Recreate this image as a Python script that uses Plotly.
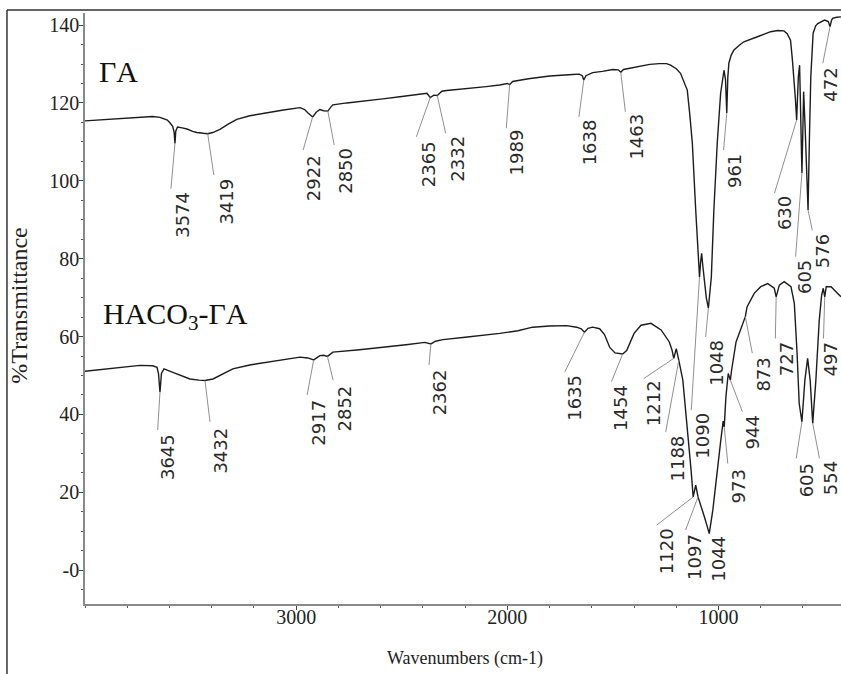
import numpy as np
import plotly.graph_objects as go

# ---- spectrum of ΓA (wavenumber cm-1, %T) ----
ga_wn = [4000, 3950, 3900, 3850, 3800, 3740, 3680, 3645, 3610, 3598, 3585, 3578, 3574, 3570,
         3562, 3540, 3517, 3490, 3470, 3440, 3419, 3395, 3361, 3320, 3281, 3220, 3139, 3060,
         2982, 2960, 2945, 2922, 2905, 2888, 2870, 2850, 2835, 2826, 2760, 2665, 2580, 2509,
         2440, 2381, 2365, 2348, 2332, 2310, 2287, 2200, 2100, 2036, 2000, 1989, 1975, 1900,
         1799, 1691, 1660, 1645, 1638, 1628, 1596, 1550, 1501, 1475, 1463, 1450, 1407, 1326,
         1280, 1246, 1227, 1200, 1180, 1165, 1148, 1136, 1124, 1108, 1096, 1090, 1085, 1080,
         1074, 1069, 1058, 1048, 1040, 1034, 1022, 1006, 990, 974, 967, 961, 956, 951, 940,
         927, 900, 880, 816, 790, 753, 720, 690, 675, 659, 650, 643, 636, 630, 626, 622, 616,
         611, 605, 601, 597, 590, 583, 576, 570, 563, 552, 540, 530, 498, 480, 472, 465, 460,
         440, 420]
ga_t = [115.4, 115.6, 115.8, 116.0, 116.2, 116.4, 116.5, 116.3, 115.6, 114.9, 114.0, 112.5,
        109.6, 112.8, 113.8, 113.6, 113.3, 112.7, 112.4, 112.2, 112.1, 112.4, 113.2, 114.6,
        115.8, 116.7, 117.5, 118.2, 118.8, 118.3, 117.5, 116.4, 117.6, 118.3, 118.0, 117.9,
        119.0, 119.5, 120.0, 120.5, 121.1, 121.6, 122.1, 122.5, 121.4, 122.0, 121.9, 123.0,
        123.2, 123.6, 124.2, 124.6, 125.0, 124.7, 125.5, 126.2, 126.9, 127.3, 127.4, 127.0,
        125.9, 127.0, 127.8, 128.1, 128.6, 128.5, 127.9, 128.6, 129.0, 129.9, 130.1, 130.1,
        129.7, 128.8, 127.6, 125.8, 123.3, 117.0, 109.7, 92.5, 80.0, 75.3, 79.0, 81.4, 78.0,
        75.3, 70.0, 67.3, 72.0, 75.3, 92.5, 109.7, 122.5, 128.4, 126.0, 117.4, 126.5, 130.2,
        132.3, 133.6, 134.9, 135.7, 137.0, 137.6, 138.3, 138.6, 138.5, 137.8, 136.1, 131.0,
        126.7, 121.0, 115.6, 121.0, 126.7, 129.7, 118.3, 102.0, 112.0, 122.9, 113.9, 104.0,
        92.5, 109.7, 126.7, 137.9, 139.8, 140.4, 141.3, 140.9, 139.6, 141.2, 141.7, 142.0,
        142.1]

# ---- spectrum of HACO3-ΓA ----
haco_wn = [4000, 3900, 3800, 3740, 3680, 3659, 3652, 3645, 3638, 3626, 3584, 3540, 3503, 3460,
           3432, 3394, 3350, 3300, 3220, 3139, 3060, 2982, 2945, 2917, 2888, 2870, 2852, 2826,
           2700, 2590, 2480, 2391, 2362, 2340, 2306, 2200, 2100, 2036, 1950, 1880, 1800, 1719,
           1672, 1650, 1635, 1618, 1596, 1563, 1540, 1515, 1490, 1454, 1435, 1421, 1400, 1367,
           1320, 1272, 1233, 1220, 1212, 1200, 1193, 1188, 1169, 1154, 1138, 1130, 1120, 1108,
           1097, 1085, 1067, 1055, 1044, 1027, 1004, 990, 978, 973, 965, 954, 944, 938, 917,
           894, 873, 865, 831, 800, 767, 736, 727, 712, 689, 657, 641, 628, 618, 605, 591, 578,
           566, 554, 539, 523, 512, 504, 497, 490, 467, 444, 420]
haco_t = [51.1, 51.7, 52.2, 52.6, 52.5, 52.1, 50.5, 45.7, 50.5, 51.7, 50.8, 49.9, 49.1, 48.8,
          48.7, 49.1, 50.3, 51.7, 52.7, 53.4, 54.1, 54.7, 54.5, 54.0, 55.1, 55.2, 54.9, 56.0,
          56.6, 57.2, 57.9, 58.5, 58.1, 58.8, 59.2, 59.8, 60.4, 60.8, 61.5, 62.4, 62.7, 62.8,
          62.4, 62.0, 61.1, 62.1, 62.4, 62.0, 60.5, 57.2, 55.8, 55.5, 56.4, 58.1, 60.8, 62.9,
          63.4, 61.7, 58.6, 56.5, 54.4, 56.9, 55.5, 53.9, 48.8, 40.3, 30.0, 25.7, 18.8, 21.8,
          18.8, 16.5, 13.7, 11.5, 9.4, 15.4, 27.4, 33.0, 38.3, 36.8, 44.5, 50.5, 48.8, 51.4,
          58.6, 62.0, 65.1, 67.6, 71.1, 72.8, 73.6, 72.4, 70.2, 73.2, 74.1, 72.8, 68.5, 55.7,
          42.8, 38.1, 48.8, 54.4, 48.8, 37.7, 48.8, 64.2, 70.5, 72.4, 70.2, 72.8, 72.8, 71.5,
          70.2]

# ---- marked band positions ----
ga_peaks = [3574, 3419, 2922, 2850, 2365, 2332, 1989, 1638, 1463, 1090, 1048, 961, 630, 605,
            576, 472]
haco_peaks = [3645, 3432, 2917, 2852, 2362, 1635, 1454, 1212, 1188, 1120, 1097, 1044, 973,
              944, 873, 727, 605, 554, 497]

# label placement: (leader end wn, leader end %T, label centre wn, label centre %T)
ga_place = {
    3574: (3593, 98.0, 3542, 91.2), 3419: (3390, 101.5, 3330, 94.8),
    2922: (2967, 107.9, 2918, 100.8), 2850: (2820, 109.2, 2770, 102.5),
    2365: (2431, 111.3, 2375, 104.3), 2332: (2292, 112.2, 2240, 105.6),
    1989: (2005, 113.5, 1956, 107.2), 1638: (1661, 116.4, 1610, 109.8),
    1463: (1441, 117.7, 1390, 111.4), 1090: (1129, 41.1, 1074, 34.5),
    1048: (1061, 59.9, 1011, 53.3), 961: (976, 107.9, 924, 102.4),
    630: (735, 96.8, 687, 91.6), 605: (635, 80.5, 593, 75.4),
    576: (556, 87.3, 510, 81.9), 472: (506, 130.2, 470, 124.8),
}
haco_place = {
    3645: (3656, 36.0, 3606, 29.1), 3432: (3408, 38.1, 3359, 30.8),
    2917: (2948, 45.0, 2896, 37.9), 2852: (2825, 48.8, 2772, 41.6),
    2362: (2371, 52.7, 2320, 45.6), 1635: (1728, 50.9, 1679, 44.3),
    1454: (1507, 48.4, 1461, 41.7), 1212: (1354, 49.2, 1307, 42.8),
    1188: (1250, 35.5, 1196, 28.7), 1120: (1292, 11.6, 1248, 4.9),
    1097: (1156, 10.3, 1114, 3.5), 1044: (None, None, 1000, 2.8),
    973: (956, 27.4, 905, 21.4), 944: (887, 40.7, 841, 35.4),
    873: (840, 55.7, 788, 50.3), 727: (731, 59.5, 680, 54.2),
    605: (632, 28.7, 585, 23.1), 554: (522, 28.7, 472, 23.6),
    497: (503, 59.5, 471, 54.2),
}

y_ticks = [0, 20, 40, 60, 80, 100, 120, 140]
y_ticktext = ["-0", "20", "40", "60", "80", "100", "120", "140"]
x_ticks = [1000, 2000, 3000]

SERIF = "Liberation Serif"
SANS = "DejaVu Sans"

fig = go.Figure()
for wn, t in ((ga_wn, ga_t), (haco_wn, haco_t)):
    fig.add_trace(go.Scatter(x=wn, y=t, mode="lines",
                             line=dict(color="#1c1c1c", width=1.4),
                             hoverinfo="skip", showlegend=False))

shapes = []
annotations = []
for peaks, place, wn, t in ((ga_peaks, ga_place, ga_wn, ga_t),
                            (haco_peaks, haco_place, haco_wn, haco_t)):
    wn_asc = np.array(wn[::-1], dtype=float)
    t_asc = np.array(t[::-1], dtype=float)
    for p in peaks:
        ex, ey, lx, ly = place[p]
        tip = float(np.interp(p, wn_asc, t_asc))
        if ex is not None:
            shapes.append(dict(type="line", xref="x", yref="y", x0=p, y0=tip, x1=ex, y1=ey,
                               line=dict(color="#8f8f8f", width=1)))
        annotations.append(dict(x=lx, y=ly, xref="x", yref="y", text=str(p), showarrow=False,
                                textangle=-90, xanchor="center", yanchor="middle",
                                font=dict(family=SANS, size=18, color="#2a2a2a")))

# sample names
annotations.append(dict(x=3945, y=132.9, xref="x", yref="y", text="ΓA", showarrow=False,
                        xanchor="left", yanchor="top",
                        font=dict(family=SERIF, size=30, color="#111")))
annotations.append(dict(x=3924, y=70.6, xref="x", yref="y", text="HACO<sub>3</sub>-ΓA",
                        showarrow=False, xanchor="left", yanchor="top",
                        font=dict(family=SERIF, size=30, color="#111")))

# axis titles
annotations.append(dict(x=-0.0866, y=0.504, xref="paper", yref="paper", text="%Transmittance",
                        showarrow=False, textangle=-90, xanchor="center", yanchor="middle",
                        font=dict(family=SERIF, size=24, color="#222")))
annotations.append(dict(x=0.5026, y=-0.0914, xref="paper", yref="paper",
                        text="Wavenumbers (cm-1)", showarrow=False,
                        xanchor="center", yanchor="middle",
                        font=dict(family=SERIF, size=18, color="#222")))

# outer frame (left and top edges)
shapes.append(dict(type="line", xref="paper", yref="paper", x0=-0.1032, y0=1.0051,
                   x1=1.02, y1=1.0051, line=dict(color="#333", width=1.5)))
shapes.append(dict(type="line", xref="paper", yref="paper", x0=-0.1032, y0=1.0051,
                   x1=-0.1032, y1=-0.2, line=dict(color="#333", width=1.5)))

tick_font = dict(family=SERIF, size=20, color="#222")

fig.update_layout(
    width=841, height=674,
    font=dict(family=SERIF, size=20, color="#222"),
    margin=dict(l=85, r=0, t=13, b=70),
    paper_bgcolor="white", plot_bgcolor="white",
    shapes=shapes, annotations=annotations,
    xaxis=dict(range=[4000, 420], tickmode="array", tickvals=x_ticks,
               ticktext=[str(v) for v in x_ticks],
               showgrid=False, zeroline=False, showline=True, linecolor="#8a8a8a",
               linewidth=2, ticks="outside", ticklen=4, tickcolor="#444", tickwidth=1,
               tickfont=tick_font, ticklabelstandoff=-10,
               minor=dict(dtick=200, tick0=0, ticks="outside", ticklen=2,
                          tickcolor="#555", showgrid=False)),
    yaxis=dict(range=[-8.7, 143.1], tickmode="array", tickvals=y_ticks, ticktext=y_ticktext,
               showgrid=False, zeroline=False, showline=True, linecolor="#8a8a8a",
               linewidth=1.5, ticks="outside", ticklen=4, tickcolor="#444", tickwidth=1,
               tickfont=tick_font, ticklabelstandoff=-4,
               minor=dict(dtick=5, tick0=0, ticks="outside", ticklen=2,
                          tickcolor="#555", showgrid=False)),
)

fig.write_html("out.html")
